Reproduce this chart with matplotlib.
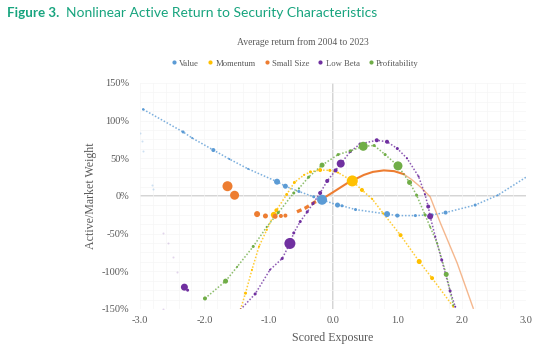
import numpy as np
import matplotlib
matplotlib.use("Agg")
import matplotlib.pyplot as plt
from matplotlib.lines import Line2D
from matplotlib.ticker import MultipleLocator

# ----------------------- DATA -----------------------
# x = scored exposure, y = active/market weight in %, d = dot diameter (px)
value_x = [-2.95, -2.33, -2.19, -1.86, -1.61, -1.32, -0.87, -0.74, -0.53, -0.30, -0.17,
           0.07, 0.14, 0.35, 0.84, 1.00, 1.28, 1.54, 1.75, 2.21, 2.56, 3.02]
value_y = [115, 85, 77, 61, 49, 36, 19, 13, 6, -1, -5,
           -12, -13, -18, -24, -26, -26, -25, -22, -12, 1, 26]
value_d = [2.5, 3, 2, 4, 2, 2, 6, 5, 3, 3, 10,
           5, 3, 3, 6, 4, 3, 3, 4, 3, 2, 2]
value_tail_x = [-3.00, -2.97, -2.95, -2.81, -2.80]
value_tail_y = [84, 73, 60, 15, 9]

mom_x = [-1.44, -1.36, -1.26, -1.15, -1.03, -0.92, -0.88, -0.72, -0.60, -0.45, -0.35,
         -0.20, -0.05, 0.08, 0.30, 0.45, 0.61, 0.78, 1.05, 1.34, 1.54, 1.87]
mom_y = [-151, -129, -98, -67, -45, -25, -19, 2, 18, 28, 32,
         34.5, 34, 31, 20, 8, -4, -23, -52, -87, -109, -147]
mom_d = [2, 3, 2, 2, 2, 6, 4, 3, 3, 2, 3,
         4, 3, 2, 11, 4, 2, 2, 4, 5, 4, 2]

size_dots_x = [-1.64, -1.53, -1.18, -1.05, -0.90, -0.81, -0.74]
size_dots_y = [13, 1, -24, -26.5, -27, -26.5, -26]
size_dots_d = [10, 9, 6, 5, 5, 4, 4]
size_x = [-0.56, -0.43, -0.28, -0.15, 0.00, 0.22, 0.48, 0.62, 0.79, 0.95, 1.10,
          1.22, 1.36, 1.51, 1.67, 1.93, 2.18]
size_y = [-21, -16, -8, -3, 5, 17, 28, 32, 34, 33, 29,
          22, 12, -1, -36, -89, -149]

beta_x = [-1.44, -1.21, -0.98, -0.79, -0.67, -0.61, -0.51, -0.40, -0.31, -0.20, -0.09,
          0.04, 0.12, 0.27, 0.42, 0.68, 0.84, 1.00, 1.15, 1.33, 1.43, 1.48, 1.51,
          1.59, 1.69, 1.82, 1.90]
beta_y = [-151, -130, -98, -83, -63, -49, -34, -21, -10, 4, 20,
          34, 43, 59, 69, 74, 72, 63, 50, 26, 2, -14, -27,
          -54, -85, -126, -147]
beta_d = [2, 3, 2, 3, 11, 3, 3, 3, 3, 4, 4,
          4, 8, 3, 3, 4, 4, 3, 2, 2, 2, 4, 6,
          2, 3, 3, 2]
beta_far_x = [-2.31, -2.26]
beta_far_y = [-121, -125]
beta_far_d = [7, 3]
beta_tail_x = [-2.42, -2.49, -2.57, -2.64, -2.64]
beta_tail_y = [-101, -81, -62, -49, -150]

prof_x = [-1.99, -1.67, -1.49, -1.24, -1.03, -0.85, -0.61, -0.53, -0.38, -0.17, 0.08,
          0.27, 0.47, 0.64, 0.81, 1.01, 1.19, 1.30, 1.43, 1.51, 1.62, 1.76, 1.87]
prof_y = [-136, -113, -94, -67, -41, -22, 4, 10, 25, 41, 55,
          60, 66, 67, 55, 40, 18, 1, -25, -41, -63, -104, -145]
prof_d = [4, 5, 2, 3, 2, 3, 3, 2, 3, 5, 3,
          3, 9, 3, 3, 9, 5, 3, 3, 2, 2, 5, 2]

x_ticks = [-3.0, -2.0, -1.0, 0.0, 1.0, 2.0, 3.0]
y_ticks = [-150, -100, -50, 0, 50, 100, 150]

BLUE, YELLOW, ORANGE, PURPLE, GREEN = "#5b9bd5", "#ffc000", "#ed7d31", "#7030a0", "#70ad47"
GREY = "#595959"
SERIF = "Liberation Serif"


def area(d):
    # dot diameter in px -> scatter area in pt^2
    return (np.asarray(d) * 0.72) ** 2


# ----------------------- PLOT -----------------------
fig = plt.figure(figsize=(5.5, 3.55), dpi=100)
ax = fig.add_axes([140 / 550, 1 - 309 / 355, 386 / 550, 226 / 355])
ax.set_xlim(-3, 3)
ax.set_ylim(-150, 150)

ax.xaxis.set_minor_locator(MultipleLocator(0.2))
ax.yaxis.set_minor_locator(MultipleLocator(12.5))
ax.grid(True, which="both", color="#f6f6f6", lw=0.5, zorder=0)
ax.axhline(0, color="#d4d4d4", lw=1.4, zorder=1)
ax.axvline(0, color="#d4d4d4", lw=1.4, zorder=1)

# value
ax.plot(value_x, value_y, color=BLUE, lw=1.1, ls=(0, (1, 1.2)), alpha=0.8, zorder=2)
ax.scatter(value_x, value_y, s=area(value_d), color=BLUE, lw=0, zorder=3)
ax.scatter(value_tail_x, value_tail_y, s=area(2), color=BLUE, alpha=0.3, lw=0, zorder=3)

# momentum
ax.plot(mom_x, mom_y, color=YELLOW, lw=1.1, ls=(0, (1, 1.2)), alpha=0.8, zorder=2)
ax.scatter(mom_x, mom_y, s=area(mom_d), color=YELLOW, lw=0, zorder=3)

# small size: dashed start, solid middle, faint tail
ax.plot(size_x[:4], size_y[:4], color=ORANGE, lw=2.4, ls=(0, (1.5, 1)), zorder=2)
ax.plot(size_x[3:11], size_y[3:11], color=ORANGE, lw=1.5, zorder=2)
ax.plot(size_x[10:], size_y[10:], color=ORANGE, lw=1.0, alpha=0.55, zorder=2)
ax.scatter(size_dots_x, size_dots_y, s=area(size_dots_d), color=ORANGE, lw=0, zorder=3)

# low beta
ax.plot(beta_x, beta_y, color=PURPLE, lw=1.1, ls=(0, (1, 1.2)), alpha=0.8, zorder=2)
ax.scatter(beta_x, beta_y, s=area(beta_d), color=PURPLE, lw=0, zorder=3)
ax.scatter(beta_far_x, beta_far_y, s=area(beta_far_d), color=PURPLE, lw=0, zorder=3)
ax.scatter(beta_tail_x, beta_tail_y, s=area(2), color=PURPLE, alpha=0.2, lw=0, zorder=3)

# profitability
ax.plot(prof_x, prof_y, color=GREEN, lw=1.1, ls=(0, (1, 1.2)), alpha=0.8, zorder=2)
ax.scatter(prof_x, prof_y, s=area(prof_d), color=GREEN, lw=0, zorder=3)

# axes cosmetics
for s in ax.spines.values():
    s.set_visible(False)
ax.set_xticks(x_ticks)
ax.set_xticklabels([f"{t:.1f}" for t in x_ticks])
ax.set_yticks(y_ticks)
ax.set_yticklabels([f"{t}%" for t in y_ticks])
ax.tick_params(which="both", length=0, colors=GREY, labelsize=7.5)
ax.tick_params(axis="y", pad=8)
ax.tick_params(axis="x", pad=5)
for lab in ax.get_xticklabels() + ax.get_yticklabels():
    lab.set_family(SERIF)

ax.set_xlabel("Scored Exposure", family=SERIF, fontsize=8.6, color=GREY)
ax.set_ylabel("Active/Market Weight", family=SERIF, fontsize=8.6, color=GREY)
ax.xaxis.set_label_coords(0.5, -0.1)
ax.yaxis.set_label_coords(-0.112, 0.5)

fig.text(303 / 550, 1 - 42 / 355, "Average return from 2004 to 2023", family=SERIF,
         fontsize=6.9, color=GREY, ha="center", va="center")

names = ["Value", "Momentum", "Small Size", "Low Beta", "Profitability"]
colors = [BLUE, YELLOW, ORANGE, PURPLE, GREEN]
handles = [Line2D([], [], ls="", marker="o", ms=3, mec="none", color=c) for c in colors]
fig.legend(handles, names, loc="center", bbox_to_anchor=(295 / 550, 1 - 63.5 / 355),
           ncol=5, frameon=False, handlelength=0.6, handletextpad=0.3, columnspacing=1.0,
           prop={"family": SERIF, "size": 6.2}, labelcolor=GREY)

# figure caption: bold "Figure 3." + regular rest
TEAL = "#17a47e"
t1 = fig.text(7 / 550, 1 - 13 / 355, "Figure 3.", family="Lato", weight="bold",
              fontsize=9.6, color=TEAL, va="center")
fig.canvas.draw()
bb = t1.get_window_extent()
fig.text((bb.x1 + 7) / 550, 1 - 13 / 355, "Nonlinear Active Return to Security Characteristics",
         family="Lato", fontsize=10, color=TEAL, va="center")

fig.savefig("out.png", dpi=100)
